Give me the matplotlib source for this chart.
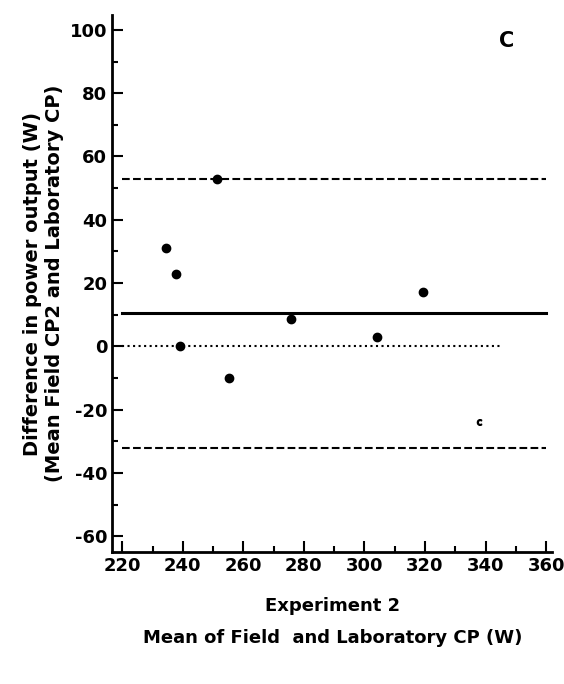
import matplotlib.pyplot as plt

plt.rcParams['axes.unicode_minus'] = False

mean_cp = [234.5, 237.8, 239.1, 251.3, 255.3, 275.7, 304.0, 319.5]
diff_cp = [31.1, 22.8, 0.0, 52.9, -10.0, 8.6, 2.9, 17.2]
odd_x, odd_y = 338.0, -24.0
upper_loa = 53.0
bias = 10.5
lower_loa = -32.0

fig = plt.figure(figsize=(5.64, 6.84), dpi=100)
ax = fig.add_axes([0.199, 0.193, 0.78, 0.785])
ax.plot(mean_cp, diff_cp, 'o', color='black', ms=6)
ax.plot([odd_x], [odd_y], marker='$\\mathrm{c}$', color='black', ms=4, ls='none')
ax.plot([220, 360], [upper_loa]*2, 'k--', lw=1.5)
ax.plot([220, 360], [lower_loa]*2, 'k--', lw=1.5)
ax.plot([220, 360], [bias]*2, 'k-', lw=2.2)
ax.plot([220, 345], [0, 0], 'k:', lw=1.5)

ax.set_xlim(216.7, 362)
ax.set_ylim(-65, 104.7)
ax.set_xticks(range(220, 361, 20))
ax.set_xticks(range(230, 360, 20), minor=True)
ax.set_yticks(range(-60, 101, 20))
ax.set_yticks(range(-50, 100, 20), minor=True)
ax.tick_params(direction='in', length=8, width=1.5, labelsize=13)
ax.tick_params(which='minor', direction='in', length=4, width=1.5)
for s in ['top', 'right']:
    ax.spines[s].set_visible(False)
for s in ['left', 'bottom']:
    ax.spines[s].set_linewidth(2)
for lab in ax.get_xticklabels() + ax.get_yticklabels():
    lab.set_fontweight('bold')

ax.set_ylabel('Difference in power output (W)\n(Mean Field CP2 and Laboratory CP)',
              fontsize=14, fontweight='bold', labelpad=4)
ax.text(0.5, -0.11, 'Experiment 2', transform=ax.transAxes, ha='center',
        fontsize=13, fontweight='bold')
ax.text(0.5, -0.17, 'Mean of Field  and Laboratory CP (W)', transform=ax.transAxes,
        ha='center', fontsize=13, fontweight='bold')
ax.text(0.88, 0.94, 'C', transform=ax.transAxes, fontsize=15, fontweight='bold')

fig.savefig('out.png')
